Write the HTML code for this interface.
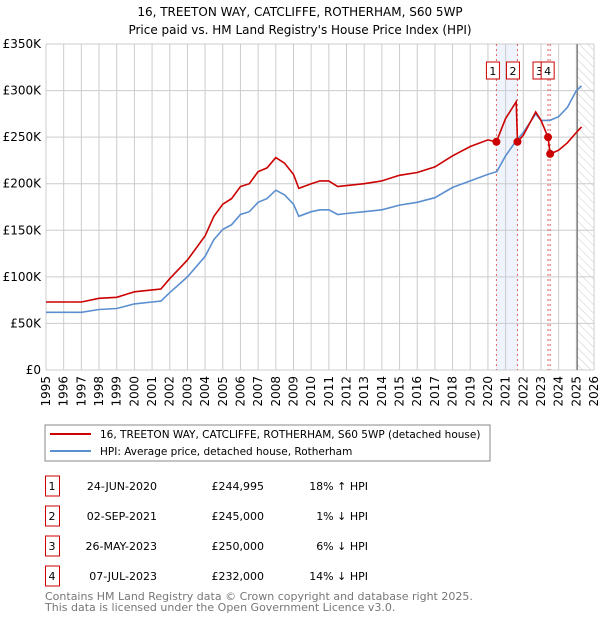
<!DOCTYPE html>
<html><head><meta charset="utf-8"><style>
body{margin:0;background:#fff;font-family:"Liberation Sans","DejaVu Sans",sans-serif;}
svg text{font-family:"DejaVu Sans","Liberation Sans",sans-serif;}
</style></head><body>
<svg id="chart" width="600" height="620">
<defs><pattern id="hatch" width="6" height="6" patternUnits="userSpaceOnUse" patternTransform="rotate(-45)"><line x1="0" y1="0" x2="0" y2="6" stroke="#ccc" stroke-width="1"/></pattern></defs>
<text x="300" y="16" text-anchor="middle" font-size="12">16, TREETON WAY, CATCLIFFE, ROTHERHAM, S60 5WP</text>
<text x="300" y="34" text-anchor="middle" font-size="12">Price paid vs. HM Land Registry's House Price Index (HPI)</text>
<g id="grid"></g><g id="marks"></g><g id="axes"></g>
<rect x="45" y="425" width="445" height="36" fill="#fff" stroke="#888"/>
<line x1="50" y1="434" x2="91" y2="434" stroke="#cc0000" stroke-width="2"/>
<text x="100" y="438" font-size="10.5">16, TREETON WAY, CATCLIFFE, ROTHERHAM, S60 5WP (detached house)</text>
<line x1="50" y1="451" x2="91" y2="451" stroke="#5b8fd0" stroke-width="2"/>
<text x="100" y="455" font-size="10.5">HPI: Average price, detached house, Rotherham</text>
<g id="table"></g>
<text x="45" y="600" font-size="11" fill="#777">Contains HM Land Registry data © Crown copyright and database right 2025.</text>
<text x="45" y="611" font-size="11" fill="#777">This data is licensed under the Open Government Licence v3.0.</text>
</svg>
<script>
const hpiYears=[1995,1996,1997,1998,1999,2000,2001,2001.5,2002,2003,2004,2004.5,2005,2005.5,2006,2006.5,2007,2007.5,2008,2008.5,2009,2009.3,2010,2010.5,2011,2011.5,2012,2013,2014,2015,2016,2017,2018,2019,2020,2020.5,2021,2021.67,2022,2022.7,2023,2023.5,2024,2024.5,2025,2025.3];
const hpiValues=[62,62,62,65,66,71,73,74,83,100,122,140,151,156,167,170,180,184,193,188,178,165,170,172,172,167,168,170,172,177,180,185,196,203,210,213,230,248,255,275,268,268,272,282,300,305];
const redYears=[1995,1996,1997,1998,1999,2000,2001,2001.5,2002,2003,2004,2004.5,2005,2005.5,2006,2006.5,2007,2007.5,2008,2008.5,2009,2009.3,2010,2010.5,2011,2011.5,2012,2013,2014,2015,2016,2017,2018,2019,2020,2020.48,2021,2021.6,2021.67,2022,2022.7,2023,2023.4,2023.52,2024,2024.5,2025,2025.3];
const redValues=[73,73,73,77,78,84,86,87,98,118,144,165,178,184,197,200,213,217,228,222,210,195,200,203,203,197,198,200,203,209,212,218,230,240,247,245,270,288,245,252,277,268,250,232,236,244,255,261];
const saleYears=[2020.48,2021.67,2023.4,2023.52];
const saleValues=[244.995,245,250,232];
const saleLabels=["1","2","3","4"];
const saleDates=["24-JUN-2020","02-SEP-2021","26-MAY-2023","07-JUL-2023"];
const salePrices=["£244,995","£245,000","£250,000","£232,000"];
const saleHpi=["18% ↑ HPI","1% ↓ HPI","6% ↓ HPI","14% ↓ HPI"];
const yTicks=[0,50,100,150,200,250,350,300];
const yTickLabels=["£0","£50K","£100K","£150K","£200K","£250K","£350K","£300K"];
const ns="http://www.w3.org/2000/svg";
const X0=46,X1=594,Y0=370,Y1=44;
const xs=y=>X0+(y-1995)*(X1-X0)/31;
const ys=v=>Y0-v*(Y0-Y1)/350;
function mk(tag,attrs,parent,txt){const e=document.createElementNS(ns,tag);for(const k in attrs)e.setAttribute(k,attrs[k]);if(txt!==undefined)e.textContent=txt;document.getElementById(parent).appendChild(e);return e;}
let sh=mk('rect',{x:xs(saleYears[0]),y:Y1,width:xs(saleYears[1])-xs(saleYears[0]),height:Y0-Y1,fill:'#eef3fc'},'grid');


let ht=mk('rect',{x:xs(2025.05),y:Y1,width:X1-xs(2025.05),height:Y0-Y1,fill:'url(#hatch)'},'grid');


for(let yr=1995;yr<=2026;yr++){
  let l=mk('line',{x1:xs(yr),x2:xs(yr),y1:Y1,y2:Y0,stroke:'#ccc'},'grid');
  
  
  let t=mk('text',{x:0,y:0,'font-size':12,transform:`translate(${xs(yr)+4},${Y0+6}) rotate(-90)`,'text-anchor':'end'},'axes',String(yr));
  
  
}
yTicks.forEach((v,i)=>{
  let l=mk('line',{x1:X0,x2:X1,y1:ys(v),y2:ys(v),stroke:'#ccc'},'grid');
  
  
  let t=mk('text',{x:X0-5,y:ys(v)+4,'font-size':12,'text-anchor':'end'},'axes',yTickLabels[i]);
  
  
});
let nl=mk('line',{x1:xs(2025.05),x2:xs(2025.05),y1:Y1,y2:Y0,stroke:'#555'},'grid');


saleYears.forEach((yr,i)=>{
  let l=mk('line',{x1:xs(yr),x2:xs(yr),y1:Y1,y2:Y0,stroke:'#e06060','stroke-dasharray':'2,3'},'grid');
  
  
});
const pts=(xa,va)=>xa.map((y,i)=>xs(y).toFixed(1)+','+ys(va[i]).toFixed(1)).join(' ');
let hp=mk('polyline',{points:pts(hpiYears,hpiValues),fill:'none',stroke:'#5b8fd0','stroke-width':1.6},'marks');


let rp=mk('polyline',{points:pts(redYears,redValues),fill:'none',stroke:'#cc0000','stroke-width':1.6},'marks');


const boxOff=[-10,-11,-15,-9];
saleYears.forEach((yr,i)=>{
  let c=mk('circle',{cx:xs(yr),cy:ys(saleValues[i]),r:4,fill:'#cc0000'},'marks');
  
  
});
saleYears.forEach((yr,i)=>{
  let bx=xs(yr)+boxOff[i];
  let b=mk('rect',{x:bx,y:62,width:13,height:17,fill:'#fff',stroke:'#cc0000'},'marks');
  
  
  let t=mk('text',{x:bx+6.5,y:75,'font-size':11,'text-anchor':'middle'},'marks',saleLabels[i]);
  
  
});
saleLabels.forEach((lab,i)=>{
  const y=490+i*30;
  let b=mk('rect',{x:45.5,y:y-14,width:14,height:20,fill:'#fff',stroke:'#cc0000'},'table');
  
  
  let t=mk('text',{x:52,y:y,'font-size':11,'text-anchor':'middle'},'table',lab);
  
  
  let d=mk('text',{x:157,y:y,'font-size':11,'text-anchor':'end'},'table',saleDates[i]);
  
  
  let p=mk('text',{x:264,y:y,'font-size':11,'text-anchor':'end'},'table',salePrices[i]);
  
  
  let h=mk('text',{x:368,y:y,'font-size':11,'text-anchor':'end'},'table',saleHpi[i]);
  
  
});
</script>
</body></html>
